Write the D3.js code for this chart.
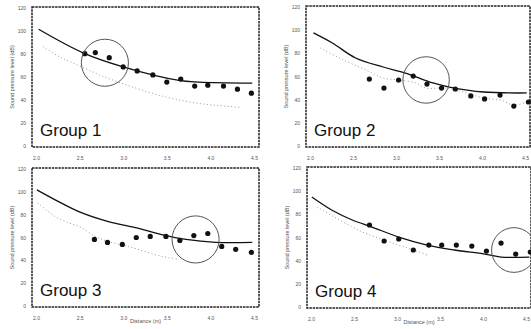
<!DOCTYPE html>
<html>
<head>
<meta charset="utf-8">
<script src="https://cdn.jsdelivr.net/npm/d3@7"></script>
<style>
  body { margin: 0; background: #fff; }
  svg { display: block; }
</style>
</head>
<body>
<figure id="chart" style="margin:0"></figure>
<script>
// tick labels shared by all four panels
const xTicks = [2.0, 2.5, 3.0, 3.5, 4.0, 4.5];
const yTicks = [0, 20, 40, 60, 80, 100, 120];
const groupNames = ["Group 1", "Group 2", "Group 3", "Group 4"];
const yTitle = "Sound pressure level (dB)";
const xTitle = "Distance (m)";

// Group 1
const g1DotX = [2.56, 2.68, 2.84, 3.00, 3.16, 3.34, 3.50, 3.66, 3.82, 3.97, 4.15, 4.31, 4.47];
const g1DotY = [80.3, 81.2, 76.8, 68.8, 65.3, 61.8, 55.6, 58.2, 52.1, 52.9, 52.1, 49.4, 45.9];
const g1FitX = [2.03, 2.54, 2.99, 3.64, 3.87, 4.48];
const g1FitY = [101.5, 81, 69, 57, 55.6, 54.7];
const g1LowX = [2.08, 2.27, 2.47, 2.73, 3.11, 3.50, 3.87, 4.21, 4.36];
const g1LowY = [86.5, 77.6, 70.6, 61.8, 51.2, 42.4, 37, 34.4, 33.5];
const g1Circle = [2.79, 72.4, 0.27];

// Group 2
const g2DotX = [2.69, 2.86, 3.03, 3.20, 3.36, 3.53, 3.69, 3.87, 4.03, 4.21, 4.37, 4.54];
const g2DotY = [57.8, 50, 57, 60.4, 53.5, 50, 49.2, 43.2, 40.6, 44, 34.5, 38];
const g2FitX = [2.04, 2.26, 2.53, 2.85, 3.11, 3.43, 3.62, 4.02, 4.52];
const g2FitY = [97.6, 88.9, 76, 68.2, 63, 54.4, 50.9, 46.6, 45.8];
const g2LowX = [2.12, 2.39, 2.65, 2.85, 3.03, 3.23, 3.35, 3.58, 3.82, 4.02, 4.21, 4.37, 4.52];
const g2LowY = [84.6, 74.2, 65.6, 58.7, 57, 54.4, 50, 50, 45.8, 41.4, 39.7, 35.4, 38];
const g2Circle = [3.35, 57, 0.27];

// Group 3
const g3DotX = [2.67, 2.82, 2.99, 3.15, 3.31, 3.49, 3.65, 3.81, 3.97, 4.13, 4.29, 4.47];
const g3DotY = [58.3, 55.7, 53.9, 60, 60.9, 60.9, 57.4, 61.7, 63.5, 52.2, 49.6, 47];
const g3FitX = [2.01, 2.22, 2.52, 2.83, 3.14, 3.44, 3.72, 4.06, 4.48];
const g3FitY = [101.7, 93, 81.7, 73.9, 68.7, 62.6, 58.3, 55.7, 55.7];
const g3LowX = [2.02, 2.22, 2.37, 2.52, 2.68, 2.83, 3.06, 3.44, 3.64];
const g3LowY = [90.4, 78.3, 73, 68.7, 60.9, 56.5, 52.2, 43.5, 40.9];
const g3Circle = [3.83, 58.3, 0.27];

// Group 4
const g4DotX = [2.68, 2.85, 3.02, 3.19, 3.37, 3.52, 3.69, 3.87, 4.04, 4.21, 4.38, 4.55];
const g4DotY = [70.8, 57, 58.7, 49.2, 53.5, 53.5, 53.5, 52.6, 48.3, 55.2, 45.7, 47.5];
const g4FitX = [2.01, 2.24, 2.48, 2.71, 3.02, 3.35, 3.67, 4.02, 4.21, 4.54];
const g4FitY = [94.9, 83.7, 75.1, 69, 60.4, 53.5, 49.2, 45.7, 43.1, 43.1];
const g4LowX = [2.07, 2.27, 2.48, 2.60, 2.75, 3.02, 3.19, 3.35];
const g4LowY = [86.3, 77.7, 69, 64.7, 60.4, 53.5, 49.2, 44.9];
const g4Circle = [4.36, 49.2, 0.26];

const groups = [
  { dotX: g1DotX, dotY: g1DotY, fitX: g1FitX, fitY: g1FitY, lowX: g1LowX, lowY: g1LowY, circle: g1Circle },
  { dotX: g2DotX, dotY: g2DotY, fitX: g2FitX, fitY: g2FitY, lowX: g2LowX, lowY: g2LowY, circle: g2Circle },
  { dotX: g3DotX, dotY: g3DotY, fitX: g3FitX, fitY: g3FitY, lowX: g3LowX, lowY: g3LowY, circle: g3Circle },
  { dotX: g4DotX, dotY: g4DotY, fitX: g4FitX, fitY: g4FitY, lowX: g4LowX, lowY: g4LowY, circle: g4Circle }
];

// frame boxes of the four panels
const frames = [
  { left: 32, right: 259, top: 7, bottom: 147, xTitle: false },
  { left: 306, right: 530, top: 6, bottom: 147, xTitle: false },
  { left: 32, right: 259, top: 168, bottom: 307, xTitle: true },
  { left: 307, right: 531, top: 167, bottom: 308, xTitle: true }
];

const width = 531, height = 329;

const svg = d3.select("figure#chart")
  .append("svg")
  .attr("width", width)
  .attr("height", height)
  .style("font-family", "'Liberation Sans', Arial, sans-serif");

const zip = (xs, ys) => xs.map((v, i) => [v, ys[i]]);

frames.forEach((f, i) => {
  const grp = groups[i];
  const g = svg.append("g");

  const x = d3.scaleLinear().domain([2, 4.5]).range([f.left + 4, f.right - 5]);
  const y = d3.scaleLinear().domain([0, 120]).range([f.bottom - 1, f.top + 1]);

  // frame
  g.append("rect")
    .attr("x", f.left)
    .attr("y", f.top)
    .attr("width", f.right - f.left)
    .attr("height", f.bottom - f.top)
    .attr("fill", "none")
    .attr("stroke", "#222")
    .attr("stroke-width", 1.5)
    .attr("stroke-dasharray", "2.5,0.8");

  // axes
  const xAxis = g.append("g")
    .attr("transform", "translate(0," + f.bottom + ")")
    .call(d3.axisBottom(x).tickValues(xTicks).tickSize(0).tickPadding(9).tickFormat(d3.format(".1f")));
  const yAxis = g.append("g")
    .attr("transform", "translate(" + f.left + ",0)")
    .call(d3.axisLeft(y).tickValues(yTicks).tickSize(0).tickPadding(6));
  [xAxis, yAxis].forEach(a => {
    a.select(".domain").remove();
    a.selectAll("text").attr("font-size", 5).attr("fill", "#555").attr("font-family", "'Liberation Sans', Arial, sans-serif");
  });

  // axis titles
  g.append("text")
    .attr("transform", "translate(" + (f.left - 18) + "," + ((f.top + f.bottom) / 2) + ")rotate(-90)")
    .attr("text-anchor", "middle")
    .attr("font-size", 5.5)
    .attr("fill", "#555")
    .text(yTitle);
  if (f.xTitle) {
    g.append("text")
      .attr("x", (f.left + f.right) / 2)
      .attr("y", f.bottom + 16)
      .attr("text-anchor", "middle")
      .attr("font-size", 5.5)
      .attr("fill", "#555")
      .text(xTitle);
  }

  const line = d3.line()
    .x(d => x(d[0]))
    .y(d => y(d[1]))
    .curve(d3.curveCatmullRom.alpha(0.5));

  // lower dotted curve
  g.append("path")
    .datum(zip(grp.lowX, grp.lowY))
    .attr("d", line)
    .attr("fill", "none")
    .attr("stroke", "#999")
    .attr("stroke-width", 1)
    .attr("stroke-dasharray", "1,2.5");

  // fitted curve
  g.append("path")
    .datum(zip(grp.fitX, grp.fitY))
    .attr("d", line)
    .attr("fill", "none")
    .attr("stroke", "#111")
    .attr("stroke-width", 1.3);

  // measured points
  g.selectAll(".dot")
    .data(zip(grp.dotX, grp.dotY))
    .enter()
    .append("circle")
    .attr("cx", d => x(d[0]))
    .attr("cy", d => y(d[1]))
    .attr("r", 2.6)
    .attr("fill", "#111");

  // highlight ring
  const [cx, cy, cr] = grp.circle;
  g.append("circle")
    .attr("cx", x(cx))
    .attr("cy", y(cy))
    .attr("r", x(cx + cr) - x(cx))
    .attr("fill", "none")
    .attr("stroke", "#555")
    .attr("stroke-width", 1);

  // group label
  g.append("text")
    .attr("x", f.left + 8)
    .attr("y", f.bottom - 11)
    .attr("font-size", 17)
    .attr("fill", "#111")
    .text(groupNames[i]);
});
</script>
</body>
</html>
